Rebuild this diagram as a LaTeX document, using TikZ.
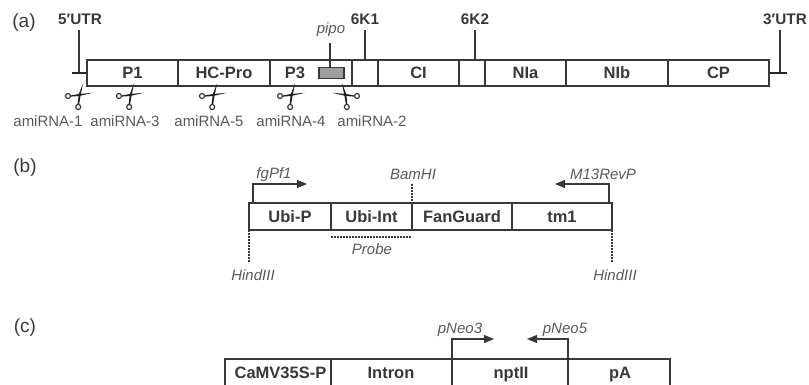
\documentclass[tikz,border=0pt]{standalone}
\usepackage{fontspec}
\setmainfont{Liberation Sans}
\usetikzlibrary{arrows.meta}
\definecolor{ink}{gray}{0.22}
\definecolor{soft}{gray}{0.35}
\tikzset{
 x=1pt,y=-1pt,
 seg/.style={draw=ink,line width=1.1pt,fill=white,minimum height=26pt,inner sep=0pt,outer sep=0pt,font=\fontsize{16.5}{16.5}\selectfont\bfseries,text=ink,anchor=north west,text height=11.5pt,text depth=0pt},
 seglabel/.style={font=\fontsize{16.5}{16.5}\selectfont\bfseries,text=ink,inner sep=0pt,text height=11.5pt,text depth=0pt},
 bold/.style={font=\fontsize{15.3}{15.3}\selectfont\bfseries,text=ink,inner sep=0pt},
 ital/.style={font=\fontsize{15}{15}\selectfont\itshape,text=soft,inner sep=0pt},
 plain/.style={font=\fontsize{15}{15}\selectfont,text=soft,inner sep=0pt},
 panel/.style={font=\fontsize{19}{19}\selectfont,text=ink,inner sep=0pt},
 stem/.style={draw=ink,line width=1.2pt},
 thick stem/.style={draw=black!85,line width=1.6pt},
 prim/.style={draw=ink,line width=1.2pt,-{Triangle[length=10pt,width=8pt]}},
 dots/.style={draw=ink,line width=1.2pt,dash pattern=on 1.6pt off 1.4pt},
 sciss/.pic={
   \fill[black!88] (4.2,-12) -- (-0.2,-1) -- (-1.4,9.5) -- (0.1,9.5) -- (1.7,0) -- cycle;
   \fill[black!88] (14,-2.2) -- (0,-1) -- (-8,0.4) -- (-8,1.6) -- (0,1) -- cycle;
   \draw[ink,line width=1.2pt] (-0.8,12) circle (2.5);
   \draw[ink,line width=1.2pt] (-11,1) circle (2.5);
 }
}
\begin{document}
\begin{tikzpicture}
\useasboundingbox (0,0) rectangle (809,385);
% panel a
\node[panel] (pa) at (24,23) {(a)};
\node[seg,minimum width=91pt] (p1) at (87,60) {P1};
\node[seg,minimum width=92pt] (hc) at (178,60) {HC-Pro};
\node[seg,minimum width=82pt] (p3) at (270,60) {};
\node[seglabel] (p3t) at (295,73) {P3};
\node[seg,minimum width=26pt] (k1) at (352,60) {};
\node[seg,minimum width=81pt] (ci) at (378,60) {CI};
\node[seg,minimum width=26pt] (k2) at (459,60) {};
\node[seg,minimum width=81pt] (nia) at (485,60) {NIa};
\node[seg,minimum width=102pt] (nib) at (566,60) {NIb};
\node[seg,minimum width=101pt] (cp) at (668,60) {CP};
\node[bold] (u5) at (80,19) {5′UTR};
\node[bold] (u3) at (785,19) {3′UTR};
\node[bold] (l1) at (365,19) {6K1};
\node[bold] (l2) at (475,19) {6K2};
\node[ital] (pp) at (331,30) {pipo};
\node[draw=ink,line width=1.1pt,fill=black!38,minimum width=25pt,minimum height=11pt,inner sep=0pt,outer sep=0pt] (prect) at (331.5,73) {};
\coordinate (u5t) at (79,30); \coordinate (u5b) at (79,73); \coordinate (u5l) at (72,73); \coordinate (u5r) at (87,73);
\coordinate (u3t) at (780,30); \coordinate (u3b) at (780,73); \coordinate (u3l) at (769,73); \coordinate (u3r) at (787,73);
\draw[stem] (u5t) -- (u5b);
\draw[thick stem] (u5l) -- (u5r);
\draw[stem] (u3t) -- (u3b);
\draw[thick stem] (u3l) -- (u3r);
\coordinate (k1t) at (365,30); \coordinate (k2t) at (475,30); \coordinate (ppt) at (330,43);
\draw[stem] (k1t) -- (k1t |- k1.north);
\draw[stem] (k2t) -- (k2t |- k2.north);
\draw[stem] (ppt) -- (ppt |- prect.north);
\pic at (79,95) {sciss};
\pic at (130,95) {sciss};
\pic at (213,95) {sciss};
\pic at (291,95) {sciss};
\pic[xscale=-1] at (346,95) {sciss};
\node[plain] (a1) at (48,121) {amiRNA-1};
\node[plain] (a3) at (125,121) {amiRNA-3};
\node[plain] (a5) at (209,121) {amiRNA-5};
\node[plain] (a4) at (291,121) {amiRNA-4};
\node[plain] (a2) at (372,121) {amiRNA-2};
% panel b
\node[panel] (pb) at (25,168) {(b)};
\node[seg,minimum width=82pt,minimum height=27pt] (ub) at (249,203) {Ubi-P};
\node[seg,minimum width=81pt,minimum height=27pt] (ui) at (331,203) {Ubi-Int};
\node[seg,minimum width=100pt,minimum height=27pt] (fg) at (412,203) {FanGuard};
\node[seg,minimum width=100pt,minimum height=27pt] (tm) at (512,203) {tm1};
\node[ital] (fgt) at (274,175) {fgPf1};
\node[ital] (bam) at (413,174) {BamHI};
\node[ital] (m13) at (603,174) {M13RevP};
\node[ital] (prb) at (372,249) {Probe};
\node[ital] (h1) at (253,275) {HindIII};
\node[ital] (h2) at (615,275) {HindIII};
\coordinate (fa) at (253,203); \coordinate (fb) at (307,184);
\draw[prim] (fa) |- (fb);
\coordinate (ma) at (609,203); \coordinate (mb) at (555,184);
\draw[prim] (ma) |- (mb);
\coordinate (bt) at (412,184);
\draw[dots] (bt) -- (bt |- ui.north);
\coordinate (pl) at (331,237); \coordinate (pr) at (411,237);
\draw[dots] (pl) -- (pr);
\coordinate (h1e) at (249,262); \coordinate (h2e) at (612,262);
\draw[dots] (ub.south west) -- (h1e);
\draw[dots] (tm.south east) -- (h2e);
% panel c
\node[panel] (pc) at (25,328) {(c)};
\node[seg,minimum width=106pt,minimum height=40pt] (cv) at (225,359) {};
\node[seg,minimum width=121pt,minimum height=40pt] (in) at (331,359) {};
\node[seg,minimum width=116pt,minimum height=40pt] (np) at (452,359) {};
\node[seg,minimum width=102pt,minimum height=40pt] (pa2) at (568,359) {};
\node[seglabel] (cvt) at (280.5,373) {CaMV35S-P};
\node[seglabel] (int) at (391,373) {Intron};
\node[seglabel] (npt) at (511,373) {nptII};
\node[seglabel] (pat) at (620,373) {pA};
\node[ital] (n3) at (460,330) {pNeo3};
\node[ital] (n5) at (565,330) {pNeo5};
\coordinate (n3e) at (494,339); \coordinate (n5e) at (527,339);
\draw[prim] (np.north west) |- (n3e);
\draw[prim] (np.north east) |- (n5e);
\end{tikzpicture}
\end{document}
